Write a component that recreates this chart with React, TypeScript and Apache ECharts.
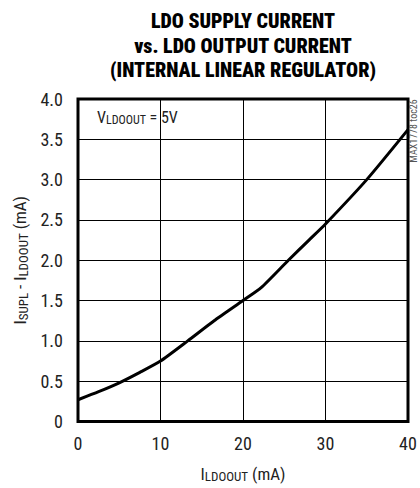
import React, { useEffect, useRef } from "react";
import * as echarts from "echarts";

const xValues = [0, 2.5, 5, 7.5, 10, 13.3, 16.5, 20, 22.2, 25.5, 28, 30, 35, 40];
const yValues = [0.27, 0.37, 0.48, 0.61, 0.75, 1.0, 1.25, 1.5, 1.66, 2.0, 2.25, 2.45, 3.0, 3.62];
const titleLines = ["LDO SUPPLY CURRENT", "vs. LDO OUTPUT CURRENT", "(INTERNAL LINEAR REGULATOR)"];

const FONT = "'Liberation Sans Narrow', 'Roboto Condensed', 'Roboto', sans-serif";

export default function App() {
  const ref = useRef<HTMLDivElement>(null);
  useEffect(() => {
    if (!ref.current) return;
    const chart = echarts.init(ref.current, null, { renderer: "svg" });
    const data = xValues.map((x, i) => [x, yValues[i]]);
    chart.setOption({
      animation: false,
      backgroundColor: "#fff",
      grid: { left: 78, right: 12, top: 99, bottom: 61, show: true, borderColor: "#000", borderWidth: 3, backgroundColor: "transparent" },
      xAxis: {
        type: "value", min: 0, max: 40, interval: 10,
        axisLine: { show: false }, axisTick: { show: false },
        splitLine: { show: true, lineStyle: { color: "#000", width: 1 } },
        axisLabel: { color: "#222", fontSize: 18, fontFamily: FONT, margin: 13 },
        name: "{m|I}{s|LDOOUT}{m| (mA)}",
        nameLocation: "middle", nameGap: 42,
        nameTextStyle: {
          rich: {
            m: { fontSize: 17, fontFamily: FONT, color: "#222", lineHeight: 20 },
            s: { fontSize: 13, fontFamily: FONT, color: "#222", lineHeight: 20, padding: [6, 0, 0, 0] },
          },
        },
      },
      yAxis: {
        type: "value", min: 0, max: 4, interval: 0.5,
        axisLine: { show: false }, axisTick: { show: false },
        splitLine: { show: true, lineStyle: { color: "#000", width: 1 } },
        axisLabel: { color: "#222", fontSize: 18, fontFamily: FONT, margin: 15, formatter: (v: number) => (v === 0 ? "0" : v.toFixed(1)) },
        name: "{m|I}{s|SUPL}{m| - I}{s|LDOOUT}{m| (mA)}",
        nameLocation: "middle", nameGap: 48, nameRotate: 90,
        nameTextStyle: {
          rich: {
            m: { fontSize: 17, fontFamily: FONT, color: "#222", lineHeight: 20 },
            s: { fontSize: 13, fontFamily: FONT, color: "#222", lineHeight: 20, padding: [6, 0, 0, 0] },
          },
        },
      },
      graphic: [
        ...titleLines.map((t, i) => ({
          type: "text", x: 243, y: 21 + i * 24.5,
          style: { text: t, font: `900 20px ${FONT}`, fill: "#000", align: "center", verticalAlign: "middle" },
        })),
        {
          type: "text", x: 97, y: 117,
          style: {
            text: "{m|V}{s|LDOOUT}{m| = 5V}", fill: "#222", align: "left", verticalAlign: "middle",
            rich: {
              m: { fontSize: 16, fontFamily: FONT, fill: "#222", lineHeight: 18 },
              s: { fontSize: 12, fontFamily: FONT, fill: "#222", lineHeight: 18, padding: [5, 0, 0, 0] },
            },
          },
        },
        {
          type: "text", x: 413, y: 131, rotation: Math.PI / 2,
          style: { text: "MAX1778 toc26", font: `10px ${FONT}`, fill: "#555", align: "center", verticalAlign: "middle" },
        },
      ],
      series: [
        {
          type: "line", data, smooth: 0.2, showSymbol: false,
          lineStyle: { color: "#000", width: 3 },
        },
      ],
    });
    return () => chart.dispose();
  }, []);
  return <div ref={ref} style={{ width: 420, height: 488, position: "absolute", left: 0, top: 0 }} />;
}
